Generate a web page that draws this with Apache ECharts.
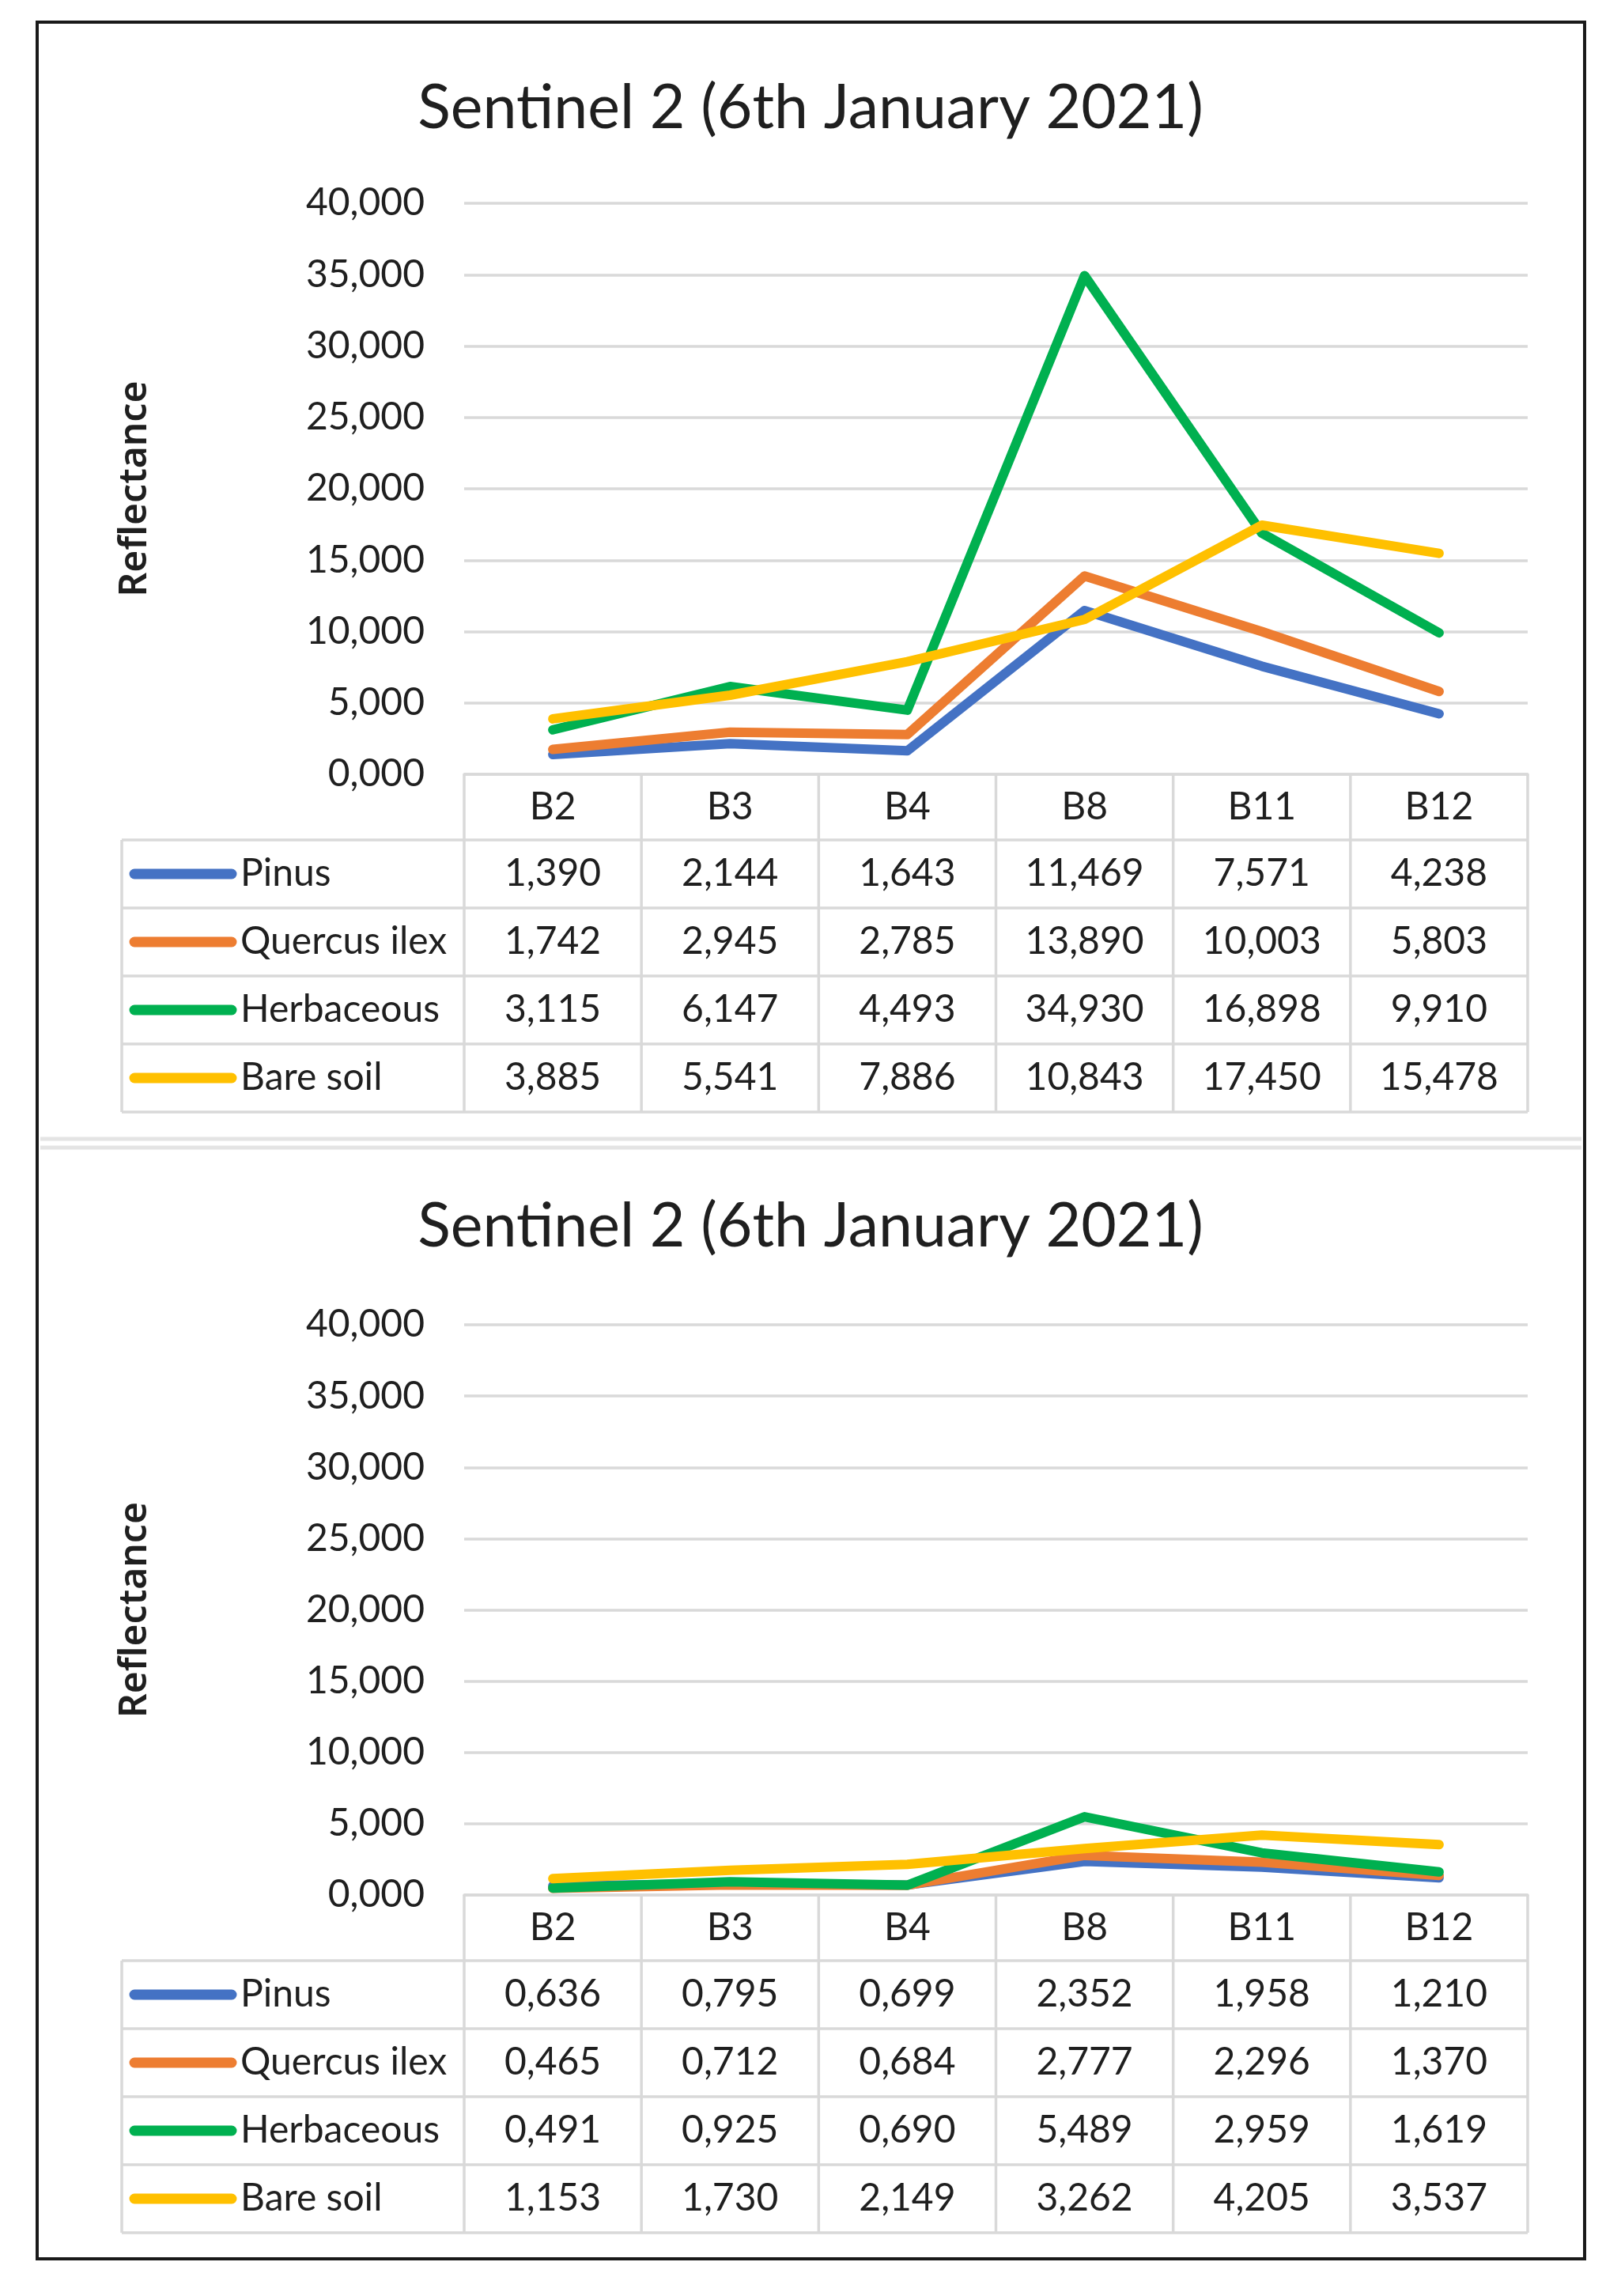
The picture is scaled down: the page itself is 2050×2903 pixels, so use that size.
<!DOCTYPE html>
<html style="height: 100%">
<head>
<meta charset="utf-8">
<title>Sentinel 2 (6th January 2021)</title>
<style>
  html, body { margin: 0; height: 100%; background: #fff; }
  #container { width: 2050px; height: 2903px; }
</style>
</head>
<body>
<div id="container"></div>
<script src="https://cdn.jsdelivr.net/npm/echarts@6/dist/echarts.min.js"></script>
<script type="text/javascript">
// ---- data ----
var chartTitle = 'Sentinel 2 (6th January 2021)';
var bands = ['B2', 'B3', 'B4', 'B8', 'B11', 'B12'];
var classNames = ['Pinus', 'Quercus ilex', 'Herbaceous', 'Bare soil'];
var classColors = ['#4472C4', '#ED7D31', '#00B050', '#FFC000'];

// upper chart
var topPinus      = [1.390, 2.144, 1.643, 11.469, 7.571, 4.238];
var topQuercus    = [1.742, 2.945, 2.785, 13.890, 10.003, 5.803];
var topHerbaceous = [3.115, 6.147, 4.493, 34.930, 16.898, 9.910];
var topBareSoil   = [3.885, 5.541, 7.886, 10.843, 17.450, 15.478];

// lower chart
var lowPinus      = [0.636, 0.795, 0.699, 2.352, 1.958, 1.210];
var lowQuercus    = [0.465, 0.712, 0.684, 2.777, 2.296, 1.370];
var lowHerbaceous = [0.491, 0.925, 0.690, 5.489, 2.959, 1.619];
var lowBareSoil   = [1.153, 1.730, 2.149, 3.262, 4.205, 3.537];

var yMin = 0, yMax = 40, yStep = 5;

var panels = [
    {rows: [topPinus, topQuercus, topHerbaceous, topBareSoil], titleTop: 94, gridTop: 257, gridHeight: 722},
    {rows: [lowPinus, lowQuercus, lowHerbaceous, lowBareSoil], titleTop: 1508, gridTop: 1675, gridHeight: 721}
];

// ---- layout ----
var FONT = 'Lato';
var TEXT = '#1f1f1f';
var RULE = '#d9d9d9';
var gridLeft = 587, gridRight = 118;
var headerH = 83, rowH = 86;
var tableLeft = 154;

function fmt(v) {
    return v.toFixed(3).replace('.', ',');
}

var dom = document.getElementById('container');
var myChart = echarts.init(dom, null, {renderer: 'canvas'});

var option = {
    animation: false,
    backgroundColor: '#fff',
    title: [],
    grid: [],
    xAxis: [],
    yAxis: [],
    series: []
};

panels.forEach(function (p, i) {
    option.title.push({
        text: chartTitle,
        left: 'center',
        top: p.titleTop,
        textStyle: {fontFamily: FONT, fontSize: 77, fontWeight: 'normal', color: TEXT}
    });
    option.grid.push({
        left: gridLeft, right: gridRight, top: p.gridTop, height: p.gridHeight
    });
    option.xAxis.push({
        type: 'category',
        gridIndex: i,
        data: bands,
        boundaryGap: true,
        axisLine: {lineStyle: {color: RULE, width: 3.5}},
        axisTick: {show: false},
        axisLabel: {
            margin: headerH / 2,
            verticalAlign: 'middle',
            fontFamily: FONT, fontSize: 48, color: TEXT
        }
    });
    option.yAxis.push({
        type: 'value',
        gridIndex: i,
        min: yMin, max: yMax, interval: yStep,
        name: 'Reflectance',
        nameLocation: 'middle',
        nameGap: 392,
        nameTextStyle: {fontFamily: 'Noto Sans', fontSize: 48, fontWeight: 600, color: TEXT},
        axisLine: {show: false},
        axisTick: {show: false},
        splitLine: {lineStyle: {color: RULE, width: 3.5}},
        axisLabel: {
            margin: 50,
            fontFamily: FONT, fontSize: 48, color: TEXT,
            formatter: function (v) { return fmt(v); }
        }
    });
    p.rows.forEach(function (vals, k) {
        option.series.push({
            name: classNames[k],
            type: 'line',
            xAxisIndex: i,
            yAxisIndex: i,
            data: vals,
            symbol: 'none',
            lineStyle: {color: classColors[k], width: 12, cap: 'round', join: 'round'},
            itemStyle: {color: classColors[k]}
        });
    });
});

myChart.setOption(option);

// ---- data table under each chart, aligned with the category axis ----
var graphics = [];

// outer frame and divider
graphics.push({
    type: 'rect', silent: true,
    shape: {x: 47, y: 28, width: 1957, height: 2828},
    style: {fill: null, stroke: '#1a1a1a', lineWidth: 4}
});
[1440, 1451].forEach(function (y) {
    graphics.push({
        type: 'line', silent: true,
        shape: {x1: 51, y1: y, x2: 2000, y2: y},
        style: {stroke: '#e4e4e4', lineWidth: 5}
    });
});

panels.forEach(function (p, i) {
    var c0 = myChart.convertToPixel({xAxisIndex: i}, bands[0]);
    var c1 = myChart.convertToPixel({xAxisIndex: i}, bands[1]);
    var bw = c1 - c0;
    var xStart = c0 - bw / 2;
    var xEnd = xStart + bw * bands.length;
    var yZero = myChart.convertToPixel({yAxisIndex: i}, 0);
    var rowTop = yZero + headerH;
    var yBottom = rowTop + rowH * p.rows.length;

    // horizontal rules
    for (var r = 0; r <= p.rows.length; r++) {
        var y = rowTop + r * rowH;
        graphics.push({
            type: 'line', silent: true,
            shape: {x1: tableLeft, y1: y, x2: xEnd, y2: y},
            style: {stroke: RULE, lineWidth: 3.5}
        });
    }
    // vertical rules
    for (var c = 0; c <= bands.length; c++) {
        var x = xStart + c * bw;
        graphics.push({
            type: 'line', silent: true,
            shape: {x1: x, y1: yZero, x2: x, y2: yBottom},
            style: {stroke: RULE, lineWidth: 3.5}
        });
    }
    graphics.push({
        type: 'line', silent: true,
        shape: {x1: tableLeft, y1: rowTop, x2: tableLeft, y2: yBottom},
        style: {stroke: RULE, lineWidth: 3.5}
    });

    // rows: legend key, class name, values
    p.rows.forEach(function (vals, k) {
        var yc = rowTop + k * rowH + rowH / 2;
        graphics.push({
            type: 'line', silent: true,
            shape: {x1: 170, y1: yc, x2: 293, y2: yc},
            style: {stroke: classColors[k], lineWidth: 13, lineCap: 'round'}
        });
        graphics.push({
            type: 'text', silent: true,
            x: 304, y: yc,
            style: {
                text: classNames[k], fontFamily: FONT, fontSize: 48, fill: TEXT,
                align: 'left', verticalAlign: 'middle'
            }
        });
        vals.forEach(function (v, j) {
            graphics.push({
                type: 'text', silent: true,
                x: myChart.convertToPixel({xAxisIndex: i}, bands[j]), y: yc,
                style: {
                    text: fmt(v), fontFamily: FONT, fontSize: 48, fill: TEXT,
                    align: 'center', verticalAlign: 'middle'
                }
            });
        });
    });
});

myChart.setOption({graphic: graphics});
</script>
</body>
</html>
